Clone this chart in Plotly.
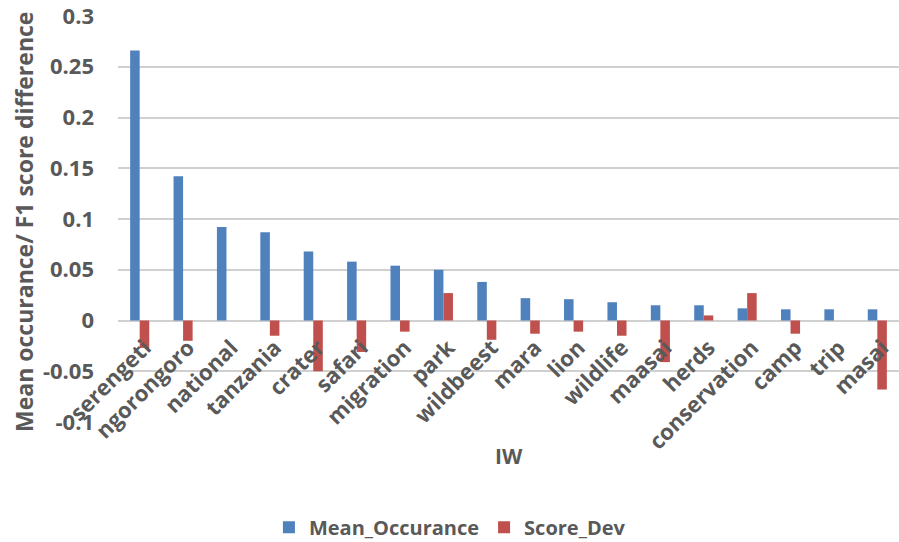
import plotly.graph_objects as go

# Interest words and their two measures
words = ["serengeti", "ngorongoro", "national", "tanzania", "crater", "safari",
         "migration", "park", "wildbeest", "mara", "lion", "wildlife", "maasai",
         "herds", "conservation", "camp", "trip", "masai"]
mean_occurance = [0.266, 0.142, 0.092, 0.087, 0.068, 0.058, 0.054, 0.050, 0.038,
                  0.022, 0.021, 0.018, 0.015, 0.015, 0.012, 0.011, 0.011, 0.011]
score_dev = [-0.027, -0.020, 0.000, -0.015, -0.050, -0.031, -0.011, 0.027, -0.019,
             -0.013, -0.011, -0.015, -0.041, 0.005, 0.027, -0.013, 0.000, -0.068]

y_tickvals = [-0.1, -0.05, 0, 0.05, 0.1, 0.15, 0.2, 0.25, 0.3]
y_ticktext = ["-0.1", "-0.05", "0", "0.05", "0.1", "0.15", "0.2", "0.25", "0.3"]

FONT = "Open Sans"
GREY = "#595959"
GRID = "#d0d0d0"

fig = go.Figure()
fig.add_trace(go.Bar(x=words, y=mean_occurance, name="Mean_Occurance",
                     marker=dict(color="#4f81bd", line=dict(width=0))))
fig.add_trace(go.Bar(x=words, y=score_dev, name="Score_Dev",
                     marker=dict(color="#c0504d", line=dict(width=0))))

y_min, y_max = -0.1, 0.3
zero_pos = (0 - y_min) / (y_max - y_min)

title_font = dict(family=FONT, color=GREY, weight="bold")

fig.update_layout(
    width=899, height=542,
    margin=dict(l=118, r=0, t=16, b=120, autoexpand=False),
    paper_bgcolor="white", plot_bgcolor="white",
    barmode="group", bargap=0.56, bargroupgap=0.0,
    font=dict(family=FONT, color=GREY),
    showlegend=True,
    legend=dict(orientation="h", x=0.425, xanchor="center", y=-0.259, yanchor="middle",
                font=dict(size=20, family=FONT, color=GREY, weight="bold"),
                itemsizing="constant", traceorder="normal"),
    xaxis=dict(
        type="category", anchor="free", position=zero_pos,
        showgrid=False, showline=False, zeroline=False,
        ticks="", tickangle=-45, ticklabelstandoff=9, ticklabelshift=5,
        ticklabeloverflow="allow",
        tickfont=dict(size=22, family=FONT, color=GREY, weight="bold"),
        automargin=False,
    ),
    yaxis=dict(
        range=[y_min, y_max], tickvals=y_tickvals, ticktext=y_ticktext,
        showgrid=True, gridcolor=GRID, gridwidth=2,
        zeroline=True, zerolinecolor=GRID, zerolinewidth=2,
        showline=False, ticks="", ticklabelstandoff=23,
        ticklabeloverflow="allow",
        tickfont=dict(size=22, family=FONT, color=GREY, weight="bold"),
        automargin=False,
    ),
    annotations=[
        dict(text="IW", xref="paper", yref="paper", x=0.5, y=-0.084,
             xanchor="center", yanchor="middle", showarrow=False,
             font=dict(size=21, **title_font)),
        dict(text="Mean occurance/ F1 score difference", xref="paper", yref="paper",
             x=-0.1204, y=0.4926, xanchor="center", yanchor="middle", textangle=-90,
             showarrow=False, font=dict(size=23, **title_font)),
    ],
)

fig.write_html("out.html")
